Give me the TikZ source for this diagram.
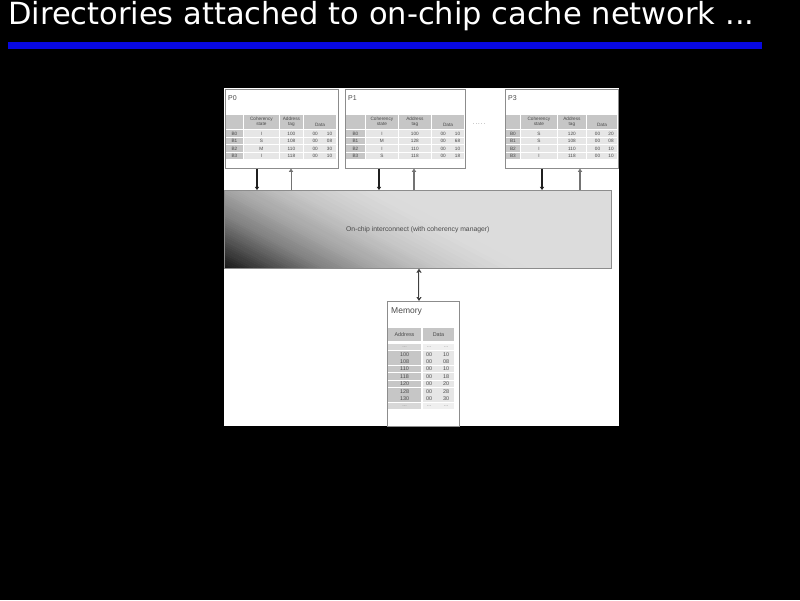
\documentclass[tikz,border=0pt]{standalone}
\usepackage{fontspec}
\setmainfont{Liberation Sans}
\newfontfamily\titlefont{DejaVu Sans}
\usetikzlibrary{arrows.meta,calc}
\definecolor{hdrgray}{HTML}{C6C6C6}
\definecolor{cellgray}{HTML}{E6E6E6}
\definecolor{lightcell}{HTML}{EFEFEF}
\definecolor{bordergray}{HTML}{8C8C8C}
\definecolor{txtgray}{HTML}{4A4A4A}
\definecolor{icgray}{HTML}{DCDCDC}
\definecolor{barblue}{RGB}{8,8,225}
\tikzset{
  tinytxt/.style={font=\fontsize{4.7}{5.2}\selectfont, text=txtgray, inner sep=0pt},
  memtxt/.style={font=\fontsize{5.4}{6}\selectfont, text=txtgray, inner sep=0pt},
  boxlabel/.style={font=\fontsize{7}{8}\selectfont, text=txtgray, inner sep=0pt, anchor=west},
  cachebox/.style={draw=bordergray, line width=0.6pt, fill=white, rectangle, inner sep=0pt, anchor=north west},
  downarr/.style={draw=black!88, -{Triangle[length=3.2pt,width=4.2pt]}},
  uparr/.style={draw=black!55, -{Triangle[length=3.2pt,width=4.2pt]}},
  memarr/.style={draw=black!75, line width=2.4pt, {Triangle[length=4pt,width=5pt]}-{Triangle[length=4pt,width=5pt]}},
  meminner/.style={draw=white!92!black, line width=0.9pt, shorten <=3pt, shorten >=3pt},
}
% #1 prefix, #2 c0 left, #3 c1 left, #4 c2 left, #5 c3 left, #6 c3 right, #7 rows
\newcommand{\cachetab}[7]{%
  \fill[hdrgray] (#2,115) rectangle (#3-1.2,129);
  \fill[hdrgray] (#3,115) rectangle (#4-1.2,129);
  \fill[hdrgray] (#4,115) rectangle (#5-1.2,129);
  \fill[hdrgray] (#5,115) rectangle (#6,129);
  \node[tinytxt, align=center] (#1hs) at ({(#3+#4-1.2)/2},121.5) {Coherency\\state};
  \node[tinytxt, align=center] (#1ha) at ({(#4+#5-1.2)/2},121.5) {Address\\tag};
  \node[tinytxt] (#1hd) at ({(#5+#6)/2},125) {Data};
  \foreach \bb/\ss/\aa/\dd/\ee [count=\i from 0] in {#7}{
    \pgfmathsetmacro\yt{130+7.5*\i}
    \fill[hdrgray] (#2,\yt) rectangle (#3-1.2,\yt+6.7);
    \fill[cellgray] (#3,\yt) rectangle (#4-1.2,\yt+6.7);
    \fill[cellgray] (#4,\yt) rectangle (#5-1.2,\yt+6.7);
    \fill[cellgray] (#5,\yt) rectangle (#6,\yt+6.7);
    \node[tinytxt] (#1b\i) at ({(#2+#3-1.2)/2},\yt+3.4) {\bb};
    \node[tinytxt] (#1s\i) at ({(#3+#4-1.2)/2},\yt+3.4) {\ss};
    \node[tinytxt] (#1a\i) at ({(#4+#5-1.2)/2},\yt+3.4) {\aa};
    \node[tinytxt] (#1d\i) at ({#5+0.35*(#6-#5)},\yt+3.4) {\dd};
    \node[tinytxt] (#1e\i) at ({#5+0.8*(#6-#5)},\yt+3.4) {\ee};
  }%
}
\begin{document}
\begin{tikzpicture}[x=1pt,y=-1pt]
\useasboundingbox (0,0) rectangle (800,600);
\fill[black] (0,0) rectangle (800,600);

% title and bar
\node[anchor=base west, text=white, font=\titlefont\fontsize{30.5}{36}\selectfont, inner sep=0pt] (title) at (8,24) {Directories attached to on-chip cache network ...};
\node[fill=barblue, minimum width=754pt, minimum height=6.5pt, inner sep=0pt, anchor=north west] (bar) at (8,42) {};

% white picture area
\fill[white] (224,88) rectangle (619,426);

% interconnect gradient
\begin{scope}
  \clip (224,190) rectangle (611,268);
  \fill[icgray] (224,190) rectangle (611,268);
  \foreach \k in {0,...,70}{
    \pgfmathsetmacro\da{2*\k}
    \pgfmathsetmacro\db{2*\k+2.5}
    \pgfmathsetmacro\g{\da<20 ? 0.10+0.009*\da : (\da<45 ? 0.28+0.0088*(\da-20) : (\da<70 ? 0.50+0.006*(\da-45) : (\da<100 ? 0.65+0.0043*(\da-70) : 0.78+0.0023*(\da-100))))}
    \pgfmathtruncatemacro\pc{min(86,round(100*\g))}
    \fill[white!\pc!black] ({224-45*0.883+0.469*\da},{268-45*0.469-0.883*\da}) -- ({224+350*0.883+0.469*\da},{268+350*0.469-0.883*\da}) -- ({224+350*0.883+0.469*\db},{268+350*0.469-0.883*\db}) -- ({224-45*0.883+0.469*\db},{268-45*0.469-0.883*\db}) -- cycle;
  }
\end{scope}
\node[draw=bordergray, line width=0.6pt, minimum width=387pt, minimum height=78pt, inner sep=0pt, anchor=north west, font=\fontsize{6.8}{8}\selectfont, text=txtgray] (ic) at (224,190) {On-chip interconnect (with coherency manager)};

% cache boxes
\node[cachebox, minimum width=113pt, minimum height=79pt] (p0) at (225,89) {};
\node[boxlabel] (p0l) at (228,98) {P0};
\cachetab{pz}{226}{244}{280}{304}{336}{B0/I/100/00/10,B1/S/108/00/08,B2/M/110/00/30,B3/I/118/00/10}

\node[cachebox, minimum width=120pt, minimum height=79pt] (p1) at (345,89) {};
\node[boxlabel] (p1l) at (348,98) {P1};
\cachetab{pa}{346}{366}{399}{432}{464}{B0/I/100/00/10,B1/M/128/00/68,B2/I/110/00/10,B3/S/118/00/18}

\node[font=\fontsize{6}{6}\selectfont, text=black!55, inner sep=0pt] (dots) at (479,124) {.\,.\,.\,.\,.};

\node[cachebox, minimum width=113pt, minimum height=79pt] (p3) at (505,89) {};
\node[boxlabel] (p3l) at (508,98) {P3};
\cachetab{pc}{506}{521}{558}{587}{617}{B0/S/120/00/20,B1/S/108/00/08,B2/I/110/00/10,B3/I/118/00/10}

% memory
\node[cachebox, minimum width=72pt, minimum height=125pt] (mem) at (387,301) {};
\node[boxlabel, font=\fontsize{8.5}{9}\selectfont] (meml) at (391,311) {Memory};
\fill[hdrgray] (388,328) rectangle (421,341);
\fill[hdrgray] (423,328) rectangle (454,341);
\node[memtxt] (mha) at (404.5,334.5) {Address};
\node[memtxt] (mhd) at (438.5,334.5) {Data};
\fill[hdrgray!70!white] (388,343.5) rectangle (421,350.1);
\fill[lightcell] (423,343.5) rectangle (454,350.1);
\node[memtxt, text=black!45] (ma0) at (404.5,346.8) {...};
\node[memtxt, text=black!45] (md0) at (429,346.8) {...};
\node[memtxt, text=black!45] (me0) at (446,346.8) {...};
\foreach \aa/\dd/\ee [count=\i from 1] in {100/00/10,108/00/08,110/00/10,118/00/18,120/00/20,128/00/28,130/00/30}{
  \pgfmathsetmacro\yt{343.5+7.4*\i}
  \fill[hdrgray] (388,\yt) rectangle (421,\yt+6.6);
  \fill[cellgray] (423,\yt) rectangle (454,\yt+6.6);
  \node[memtxt] (ma\i) at (404.5,\yt+3.3) {\aa};
  \node[memtxt] (md\i) at (429,\yt+3.3) {\dd};
  \node[memtxt] (me\i) at (446,\yt+3.3) {\ee};
}
\fill[hdrgray!70!white] (388,402.7) rectangle (421,409.3);
\fill[lightcell] (423,402.7) rectangle (454,409.3);
\node[memtxt, text=black!45] (ma8) at (404.5,406) {...};
\node[memtxt, text=black!45] (md8) at (429,406) {...};
\node[memtxt, text=black!45] (me8) at (446,406) {...};

% connectors
\coordinate (x0d) at (257,0);
\coordinate (x0u) at (291,0);
\coordinate (x1d) at (379,0);
\coordinate (x1u) at (414,0);
\coordinate (x3d) at (542,0);
\coordinate (x3u) at (580,0);
\coordinate (xm) at (419,0);
\draw[downarr, line width=2.4pt] (p0.south -| x0d) -- (ic.north -| x0d);
\draw[uparr, line width=1.0pt] (ic.north -| x0u) -- (p0.south -| x0u);
\draw[downarr, line width=1.6pt] (p1.south -| x1d) -- (ic.north -| x1d);
\draw[uparr, line width=1.8pt] (ic.north -| x1u) -- (p1.south -| x1u);
\draw[downarr, line width=1.5pt] (p3.south -| x3d) -- (ic.north -| x3d);
\draw[uparr, line width=2.0pt] (ic.north -| x3u) -- (p3.south -| x3u);
\draw[memarr] (ic.south -| xm) -- (mem.north -| xm);
\draw[meminner] (ic.south -| xm) -- (mem.north -| xm);
\end{tikzpicture}
\end{document}
